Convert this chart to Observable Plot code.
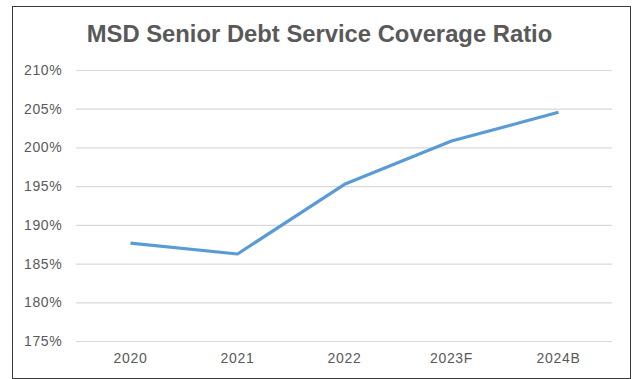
<!DOCTYPE html>
<html>
<head>
<meta charset="utf-8">
<script src="https://cdn.jsdelivr.net/npm/d3@7"></script>
<script src="https://cdn.jsdelivr.net/npm/@observablehq/plot@0.6"></script>
<style>
  html, body { margin: 0; padding: 0; background: #fff; }
  body { width: 634px; height: 379px; position: relative; overflow: hidden; font-family: "Liberation Sans", Arial, sans-serif; }
  #frame { position: absolute; left: 12px; top: 6px; width: 619px; height: 373px; box-sizing: border-box; border: 1px solid #3a3a3a; pointer-events: none; }
  #title { position: absolute; left: 0; width: 639px; top: 20px; text-align: center; font-weight: bold; font-size: 23.8px; color: #595959; line-height: 28px; white-space: nowrap; }
  #chart { position: absolute; left: 0; top: 0; }
  #chart svg text { letter-spacing: 0.7px; }
</style>
</head>
<body>
<div id="chart"></div>
<div id="title">MSD Senior Debt Service Coverage Ratio</div>
<div id="frame"></div>
<script>
const categories = ["2020", "2021", "2022", "2023F", "2024B"];
const coverage = [187.7, 186.3, 195.3, 200.9, 204.6];
const yTicks = [175, 180, 185, 190, 195, 200, 205, 210];

const data = categories.map((c, i) => ({year: c, value: coverage[i]}));

const chart = Plot.plot({
  width: 634,
  height: 379,
  marginLeft: 76,
  marginRight: 22,
  marginTop: 70,
  marginBottom: 38,
  style: {fontFamily: "'Liberation Sans', Arial, sans-serif", fontSize: "14px", color: "#595959", background: "transparent"},
  x: {type: "point", domain: categories, padding: 0.5, label: null},
  y: {domain: [175, 210], label: null},
  marks: [
    Plot.gridY(yTicks, {stroke: "#d9d9d9", strokeOpacity: 1, strokeWidth: 1.2}),
    Plot.axisY(yTicks, {tickSize: 0, tickPadding: 14, tickFormat: d => d + "%", fill: "#595959", label: null}),
    Plot.axisX({tickSize: 0, tickPadding: 12, fill: "#595959", label: null}),
    Plot.line(data, {x: "year", y: "value", stroke: "#5b9bd5", strokeWidth: 3.2, strokeLinecap: "butt", strokeLinejoin: "round"})
  ]
});
document.getElementById("chart").appendChild(chart);
</script>
</body>
</html>
